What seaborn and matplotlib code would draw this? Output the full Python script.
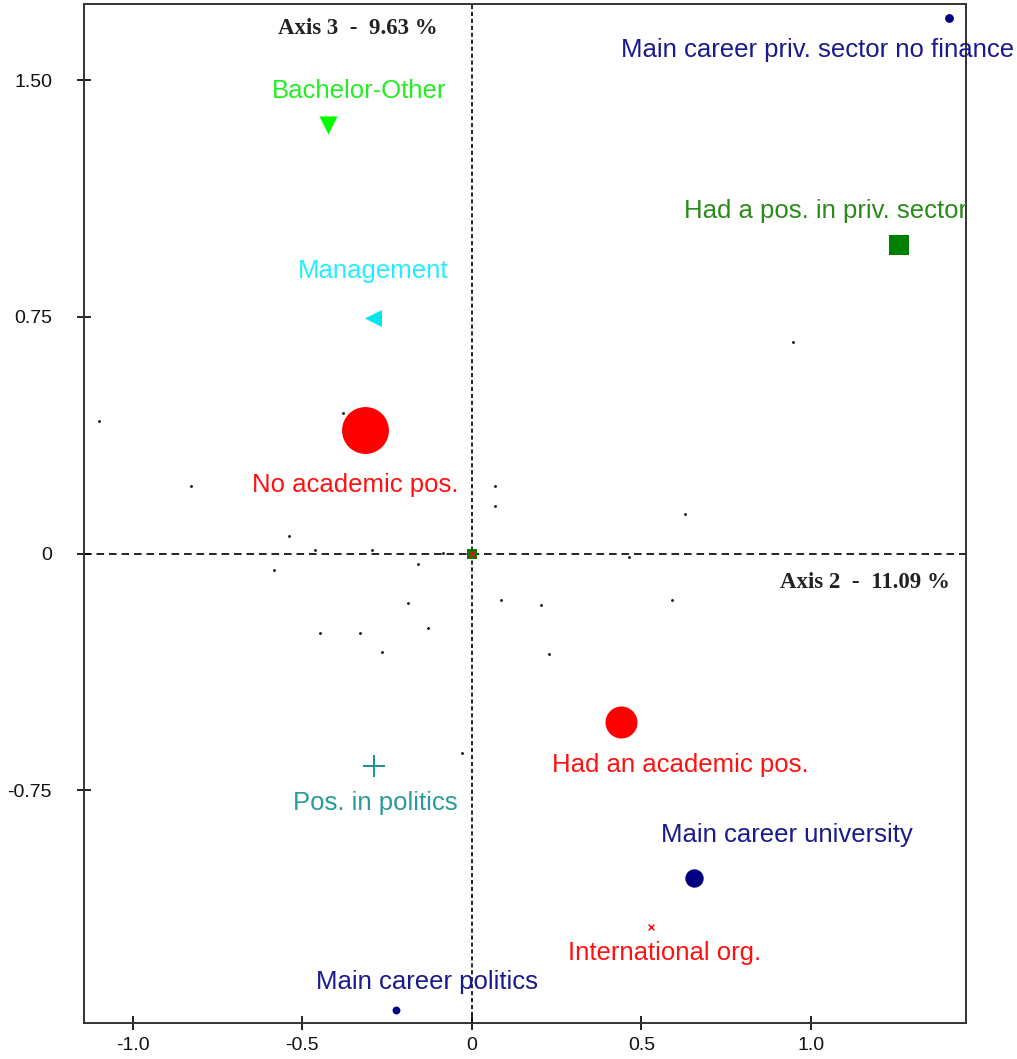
import numpy as np
import pandas as pd
import matplotlib
matplotlib.use("Agg")
import matplotlib.pyplot as plt
import seaborn as sns

# category points (axis 2, axis 3)
cat_labels = ["Main career priv. sector no finance", "Bachelor-Other", "Had a pos. in priv. sector",
              "Management", "No academic pos.", "Had an academic pos.", "Pos. in politics",
              "Main career university", "International org.", "Main career politics"]
cat_x = [1.409, -0.423, 1.261, -0.292, -0.314, 0.440, -0.290, 0.656, 0.528, -0.223]
cat_y = [1.698, 1.357, 0.977, 0.745, 0.393, -0.535, -0.673, -1.030, -1.183, -1.447]

# small individual points
ind_x = [-1.099, -0.827, -0.379, 0.069, 0.069, -0.538, -0.464, -0.294, -0.086, -0.583, -0.158, -0.187,
         0.086, -0.447, -0.329, -0.130, -0.265, 0.630, 0.465, 0.204, 0.590, 0.228, 0.947, -0.029]
ind_y = [0.421, 0.213, 0.446, 0.213, 0.152, 0.056, 0.010, 0.010, 0.003, -0.051, -0.034, -0.158,
         -0.146, -0.253, -0.253, -0.237, -0.311, 0.124, -0.012, -0.164, -0.146, -0.317, 0.670, -0.632]

x_ticks = [-1.0, -0.5, 0, 0.5, 1.0]
x_ticklabels = ["-1.0", "-0.5", "0", "0.5", "1.0"]
y_ticks = [-0.75, 0, 0.75, 1.5]
y_ticklabels = ["-0.75", "0", "0.75", "1.50"]

axis2_title = "Axis 2  -  11.09 %"
axis3_title = "Axis 3  -  9.63 %"

# style for each category: marker, marker colour, size, text colour, label offset (pt)
styles = [
    ("o", "#000080", 40, "#1a1a8c", (-95, -23)),
    ("v", "#00ff00", 170, "#22ee22", (22, 25)),
    ("s", "#008000", 190, "#2a8a1a", (-53, 25)),
    ("<", "#00e5ee", 150, "#22eeff", (0, 34)),
    ("o", "#ff0000", 1140, "#ff1111", (-7, -40)),
    ("o", "#ff0000", 530, "#ff1111", (43, -31)),
    ("+", "#008b8b", 260, "#2a9a9a", (1, -27)),
    ("o", "#000080", 175, "#1a1a8c", (67, 31)),
    ("x", "#ff0000", 18, "#ff1111", (10, -19)),
    ("o", "#000080", 32, "#1a1a8c", (22, 20)),
]

sns.set_style("white")
plt.rcParams["font.family"] = ["Liberation Sans", "DejaVu Sans"]
plt.rcParams["lines.scale_dashes"] = False

fig = plt.figure(figsize=(10.17, 10.59), dpi=100)
ax = fig.add_axes([0.0826, 0.034, 0.867, 0.962])

ax.axhline(0, color="black", lw=1.2, ls=(0, (5.5, 3.5)), zorder=1)
ax.axvline(0, color="black", lw=1.2, ls=(0, (3, 2)), zorder=1)

sns.scatterplot(x=ind_x, y=ind_y, color="black", s=4, linewidth=0, ax=ax, zorder=2)

for i, lab in enumerate(cat_labels):
    mk, mc, sz, tc, off = styles[i]
    if mk in ("+", "x"):
        sns.scatterplot(x=[cat_x[i]], y=[cat_y[i]], marker=mk, color=mc, s=sz,
                        linewidth=1.3 if mk == "+" else 1.0, ax=ax, zorder=3)
    else:
        sns.scatterplot(x=[cat_x[i]], y=[cat_y[i]], marker=mk, color=mc, s=sz,
                        linewidth=0, ax=ax, zorder=3)
    ax.annotate(lab, (cat_x[i], cat_y[i]), xytext=off, textcoords="offset points",
                ha="center", va="center", color=tc, fontsize=18.5, annotation_clip=False)

# origin marker
sns.scatterplot(x=[0], y=[0], marker="s", color="#008000", s=60, linewidth=0, ax=ax, zorder=4)
sns.scatterplot(x=[0], y=[0], marker="x", color="#ff0000", s=25, linewidth=1.0, ax=ax, zorder=5)

ax.set_xlim(-1.144, 1.457)
ax.set_ylim(-1.488, 1.741)
ax.set_xticks(x_ticks)
ax.set_xticklabels(x_ticklabels)
ax.set_yticks(y_ticks)
ax.set_yticklabels(y_ticklabels)
ax.tick_params(bottom=True, left=True, direction="inout", length=10, width=1.3,
               labelsize=14, colors="#111111")
ax.tick_params(axis="x", pad=5)
ax.tick_params(axis="y", pad=18)

for sp in ax.spines.values():
    sp.set_visible(True)
    sp.set_linewidth(1.4)
    sp.set_color("#333333")

ax.text(-0.1, 1.665, axis3_title, ha="right", va="center", fontsize=16.5,
        fontweight="bold", family=["Liberation Serif", "DejaVu Serif"], color="#222222")
ax.text(1.41, -0.093, axis2_title, ha="right", va="center", fontsize=16.5,
        fontweight="bold", family=["Liberation Serif", "DejaVu Serif"], color="#222222")

ax.set_xlabel("")
ax.set_ylabel("")
fig.savefig("out.png", dpi=100)
